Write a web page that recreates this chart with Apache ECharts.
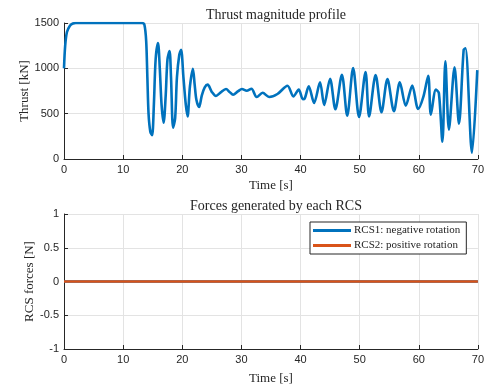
<!DOCTYPE html>
<html>
<head>
<meta charset="utf-8">
<script src="https://cdn.jsdelivr.net/npm/echarts@6/dist/echarts.min.js"></script>
<style>html,body{margin:0;padding:0;background:#fff}#c{width:487px;height:387px}</style>
</head>
<body>
<div id="c"></div>
<script>
// Time samples [s]
var time = [0, 0.2, 0.5, 1, 1.5, 2, 13.2, 13.6, 13.9, 14.1, 14.3, 14.6, 14.9, 15.2, 15.5, 15.9, 16.2, 16.5, 16.85,
  17.2, 17.5, 17.85, 18.1, 18.45, 18.8, 19.1, 19.5, 19.8, 20.2, 20.6, 20.9, 21.3, 21.8, 22.1, 22.4, 22.85,
  23.3, 23.8, 24.3, 25.0, 25.7, 26.5, 27.4, 28.0, 28.6, 29.4, 30.1, 30.9, 31.7, 32.6, 33.6, 34.7, 36.1,
  37.8, 38.8, 39.7, 40.4, 40.7, 41.4, 42.3, 43.3, 44.0, 45.0, 45.9, 47.0, 47.9, 48.9, 49.9, 51.0, 51.6,
  52.7, 53.7, 54.7, 55.8, 56.8, 57.8, 58.9, 59.9, 60.8, 61.6, 62.05, 62.9, 63.4, 64.0, 64.5, 65.1, 66.05,
  66.8, 67.6, 67.9, 69.0, 69.9];
// Thrust magnitude [kN]
var thrust = [1000, 1250, 1400, 1470, 1495, 1500, 1500, 1480, 1300, 900, 500, 300, 262, 600, 1100, 1280, 1000, 600, 400,
  700, 1100, 1190, 900, 345, 450, 900, 1150, 1205, 900, 600, 470, 800, 995, 820, 650, 573,
  700, 790, 820, 740, 695, 735, 772, 740, 709, 745, 772, 753, 775, 684, 730, 684, 717,
  808, 690, 765, 660, 665, 801, 618, 845, 595, 885, 548, 930, 478, 1004, 463, 960, 470,
  925, 515, 882, 526, 845, 588, 809, 551, 690, 919, 489, 765, 728, 190, 1077, 324, 1012,
  390, 1206, 1220, 70, 980];
// RCS forces [N]
var rcs1 = [0, 0];
var rcs2 = [0, 0];
var rcsTime = [0, 70];

var serif = '"Liberation Serif", "DejaVu Serif", serif';
var sans = '"Liberation Sans", Arial, sans-serif';
var axisCol = '#262626';

function pairs(xs, ys) { return xs.map(function (x, i) { return [x, ys[i]]; }); }

function xAxisCfg(idx, gap) {
  return {
    type: 'value', gridIndex: idx, min: 0, max: 70, interval: 10,
    name: 'Time [s]', nameLocation: 'middle', nameGap: gap, nameMoveOverlap: false,
    nameTextStyle: { fontFamily: serif, fontSize: 13, color: axisCol },
    axisLine: { onZero: false, lineStyle: { color: axisCol, width: 1 } },
    axisTick: { inside: true, length: 4, lineStyle: { color: axisCol } },
    axisLabel: { fontFamily: sans, fontSize: 11, color: axisCol, margin: 5 },
    splitLine: { show: true, lineStyle: { color: '#e3e3e3', width: 1 } }
  };
}
function plain(v) { return String(v); }

var chart = echarts.init(document.getElementById('c'), null, { renderer: 'canvas' });
chart.setOption({
  animation: false,
  backgroundColor: '#fff',
  title: [
    { text: 'Thrust magnitude profile', left: 271, top: 3, textAlign: 'center',
      textStyle: { fontFamily: serif, fontSize: 14, fontWeight: 'normal', color: axisCol } },
    { text: 'Forces generated by each RCS', left: 271, top: 194, textAlign: 'center',
      textStyle: { fontFamily: serif, fontSize: 14, fontWeight: 'normal', color: axisCol } }
  ],
  grid: [
    { left: 64, top: 23, width: 415, height: 136 },
    { left: 64, top: 214, width: 415, height: 135 }
  ],
  xAxis: [xAxisCfg(0, 20), xAxisCfg(1, 23)],
  yAxis: [
    { type: 'value', gridIndex: 0, min: 0, max: 1500, interval: 500,
      name: 'Thrust [kN]', nameLocation: 'middle', nameGap: 33, nameMoveOverlap: false,
      nameTextStyle: { fontFamily: serif, fontSize: 13, color: axisCol },
      axisLine: { show: true, lineStyle: { color: axisCol } },
      axisTick: { show: true, inside: true, length: 4, lineStyle: { color: axisCol } },
      axisLabel: { fontFamily: sans, fontSize: 11, color: axisCol, margin: 5, formatter: plain },
      splitLine: { show: true, lineStyle: { color: '#e3e3e3' } } },
    { type: 'value', gridIndex: 1, min: -1, max: 1, interval: 0.5,
      name: 'RCS forces [N]', nameLocation: 'middle', nameGap: 28, nameMoveOverlap: false,
      nameTextStyle: { fontFamily: serif, fontSize: 13, color: axisCol },
      axisLine: { show: true, lineStyle: { color: axisCol } },
      axisTick: { show: true, inside: true, length: 4, lineStyle: { color: axisCol } },
      axisLabel: { fontFamily: sans, fontSize: 11, color: axisCol, margin: 5, formatter: plain },
      splitLine: { show: true, lineStyle: { color: '#e3e3e3' } } }
  ],
  legend: {
    left: 310, top: 222, orient: 'vertical',
    backgroundColor: '#fff', borderColor: axisCol, borderWidth: 1, borderRadius: 0,
    padding: [3, 6, 3, 3], itemGap: 4, itemWidth: 38, itemHeight: 3, icon: 'rect',
    textStyle: { fontFamily: serif, fontSize: 11, color: axisCol, padding: [0, 0, 0, -2] },
    data: ['RCS1: negative rotation', 'RCS2: positive rotation']
  },
  series: [
    { type: 'line', xAxisIndex: 0, yAxisIndex: 0, data: pairs(time, thrust),
      showSymbol: false, smooth: 0.3, lineStyle: { color: '#0072BD', width: 2.6 }, itemStyle: { color: '#0072BD' } },
    { name: 'RCS1: negative rotation', type: 'line', xAxisIndex: 1, yAxisIndex: 1, data: pairs(rcsTime, rcs1),
      showSymbol: false, lineStyle: { color: '#0072BD', width: 2.5 }, itemStyle: { color: '#0072BD' } },
    { name: 'RCS2: positive rotation', type: 'line', xAxisIndex: 1, yAxisIndex: 1, data: pairs(rcsTime, rcs2),
      showSymbol: false, lineStyle: { color: '#D95319', width: 2.5 }, itemStyle: { color: '#D95319' } }
  ]
});
</script>
</body>
</html>
